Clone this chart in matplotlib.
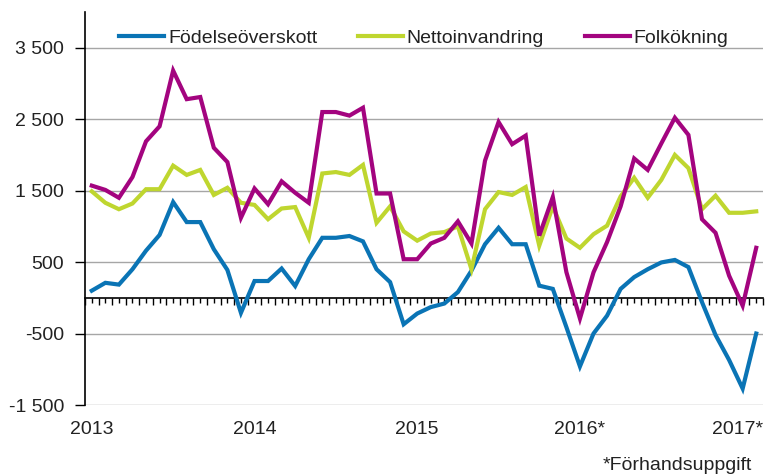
import matplotlib
matplotlib.use("Agg")
import matplotlib.pyplot as plt
import matplotlib.transforms as mtransforms
from matplotlib.ticker import FixedLocator, FuncFormatter

# ---- data (monthly, Jan 2013 - Feb 2017) ----
fodelse = [100, 210, 185, 400, 660, 880, 1340, 1060, 1060, 680, 390, -210,
           235, 235, 410, 165, 540, 840, 840, 865, 790, 400, 220, -370,
           -220, -130, -80, 80, 380, 750, 980, 750, 750, 170, 125, -410,
           -960, -500, -250, 125, 290, 400, 495, 530, 430, -60, -520, -870,
           -1270, -500]
netto = [1490, 1330, 1240, 1320, 1520, 1520, 1850, 1720, 1790, 1440, 1540, 1330,
         1300, 1100, 1250, 1270, 840, 1740, 1760, 1720, 1860, 1050, 1280, 930,
         800, 900, 920, 1000, 400, 1240, 1480, 1440, 1550, 730, 1280, 830,
         700, 890, 1010, 1420, 1680, 1400, 1650, 2000, 1815, 1240, 1430, 1190,
         1190, 1210]
folk = [1570, 1510, 1400, 1690, 2190, 2400, 3180, 2780, 2810, 2100, 1900, 1120,
        1530, 1310, 1630, 1470, 1330, 2600, 2600, 2550, 2660, 1460, 1460, 540,
        540, 760, 840, 1070, 760, 1920, 2460, 2150, 2270, 870, 1410, 360,
        -290, 356, 780, 1280, 1950, 1790, 2160, 2520, 2280, 1100, 910, 310,
        -110, 700]
series_names = ["Födelseöverskott", "Nettoinvandring", "Folkökning"]
series_colors = ["#0a74b5", "#bfd62f", "#a3047f"]
year_labels = ["2013", "2014", "2015", "2016*", "2017*"]
year_positions = [0, 12, 24, 36, 48]
y_ticks = [-1500, -500, 500, 1500, 2500, 3500]
footnote = "*Förhandsuppgift"

plt.rcParams['font.family'] = ['Liberation Sans', 'DejaVu Sans']
FS = 14
TXT = "#222222"

fig = plt.figure(figsize=(7.66, 4.75), dpi=100)
ax = fig.add_axes([85/766, 1-405/475, (763-85)/766, (405-12)/475])

x = list(range(len(fodelse)))
for vals, name, col in zip([fodelse, netto, folk], series_names, series_colors):
    ax.plot(x, vals, color=col, lw=3.0, label=name, solid_joinstyle='miter', zorder=3)

n = len(fodelse)
ax.set_xlim(-0.5, n - 0.5)
ax.set_ylim(-1500, 4000)

# grid
for yv in y_ticks:
    ax.axhline(yv, color="#a6a6a6", lw=1.0, zorder=1)

# y axis
ax.yaxis.set_major_locator(FixedLocator(y_ticks))
ax.yaxis.set_major_formatter(FuncFormatter(lambda v, p: f"{int(v):,}".replace(",", " ")))
ax.tick_params(axis='y', direction='out', length=7, width=1, color='black',
               labelsize=FS, labelcolor=TXT, pad=8)

# x axis at zero with month ticks
ax.spines['bottom'].set_position(('data', 0))
ax.spines['bottom'].set_color('black')
ax.spines['bottom'].set_linewidth(1.2)
ax.spines['bottom'].set_zorder(2)
ax.spines['left'].set_color('black')
ax.spines['left'].set_linewidth(1.2)
ax.spines['top'].set_visible(False)
ax.spines['right'].set_visible(False)
ax.xaxis.set_major_locator(FixedLocator([i - 0.5 for i in range(n + 1)]))
ax.xaxis.set_minor_locator(FixedLocator(list(range(n))))
ax.tick_params(axis='x', which='major', direction='out', length=5, width=1,
               color='black', labelbottom=False)
ax.tick_params(axis='x', which='minor', direction='out', length=3.5, width=1,
               color='black', labelbottom=False)

# year labels below plot
trans = mtransforms.blended_transform_factory(ax.transData, ax.transAxes)
for k, (pos, lab) in enumerate(zip(year_positions, year_labels)):
    t = trans
    if k == len(year_labels) - 1:
        # nudge the last label so it stays inside the figure
        t = trans + mtransforms.ScaledTranslation(-5/100, 0, fig.dpi_scale_trans)
    ax.text(pos, -24/393, lab, transform=t, ha='center', va='center',
            fontsize=FS, color=TXT, clip_on=False)

# legend
leg = ax.legend(loc='center', bbox_to_anchor=(424/766, 1-38/475),
                bbox_transform=fig.transFigure, ncol=3, frameon=False,
                fontsize=FS, handlelength=2.3, handletextpad=0.2,
                columnspacing=2.1, borderaxespad=0)
for tx in leg.get_texts():
    tx.set_color(TXT)

fig.text(752/766, 1-465/475, footnote, ha='right', va='center', fontsize=FS, color=TXT)

fig.savefig("out.png", dpi=100)
